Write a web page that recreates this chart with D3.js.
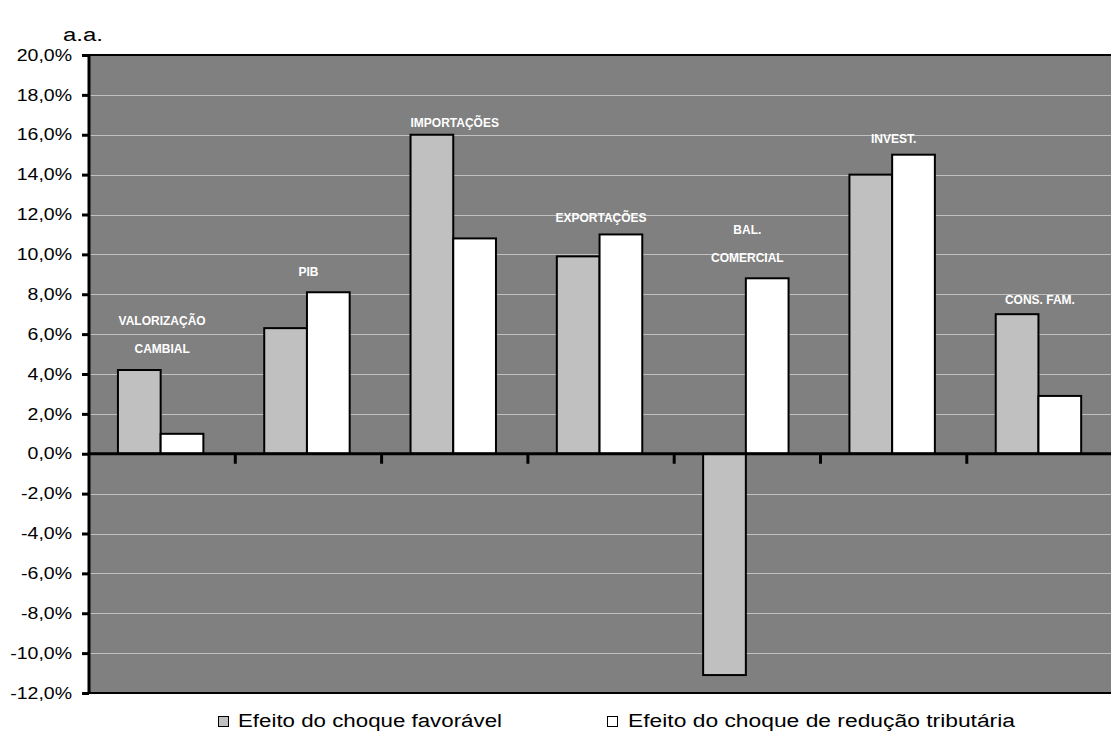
<!DOCTYPE html>
<html><head><meta charset="utf-8">
<script src="https://cdn.jsdelivr.net/npm/d3@7"></script>
<style>body{margin:0;background:#fff;} svg{display:block;font-family:"Liberation Sans",Arial,sans-serif;}</style>
</head><body>
<svg id="c" width="1111" height="731"></svg>
<script>
const categories = ["VALORIZAÇÃO CAMBIAL","PIB","IMPORTAÇÕES","EXPORTAÇÕES","BAL. COMERCIAL","INVEST.","CONS. FAM."];
const labelLines = [["VALORIZAÇÃO","CAMBIAL"],["PIB"],["IMPORTAÇÕES"],["EXPORTAÇÕES"],["BAL.","COMERCIAL"],["INVEST."],["CONS. FAM."]];
const labelValues = [6.47, 8.9, 16.4, 11.6, 11.0, 15.6, 7.5];
const seriesNames = ["Efeito do choque favorável","Efeito do choque de redução tributária"];
const favoravel = [4.2, 6.3, 16.0, 9.9, -11.1, 14.0, 7.0];
const reducao = [1.0, 8.1, 10.8, 11.0, 8.8, 15.0, 2.9];
const yTicks = [-12,-10,-8,-6,-4,-2,0,2,4,6,8,10,12,14,16,18,20];

const svg = d3.select("#c");
const L = 89, R = 89 + 146.3*7, T = 55, B = 693;
const x = d3.scaleBand().domain(categories).range([L, R]).padding(0);
const y = d3.scaleLinear().domain([-12, 20]).range([B, T]);
const bw = x.bandwidth()*0.292;

svg.append("rect").attr("x",L).attr("y",T).attr("width",R-L).attr("height",B-T).attr("fill","#808080");
// gridlines
svg.append("g").selectAll("line").data(yTicks.filter(d=>d!==0&&d!==20&&d!==-12)).join("line")
  .attr("x1",L).attr("x2",R).attr("y1",d=>Math.round(y(d))+0.5).attr("y2",d=>Math.round(y(d))+0.5)
  .attr("stroke","#c0c0c0").attr("stroke-width",1);
// top & bottom borders
svg.append("line").attr("x1",L).attr("x2",R).attr("y1",T).attr("y2",T).attr("stroke","#000").attr("stroke-width",2);
svg.append("line").attr("x1",L).attr("x2",R).attr("y1",B).attr("y2",B).attr("stroke","#000").attr("stroke-width",2);

const series = [favoravel, reducao];
const fills = ["#c0c0c0","#ffffff"];
series.forEach((vals, s) => {
  svg.append("g").selectAll("rect").data(vals).join("rect")
    .attr("x",(d,i)=>x(categories[i]) + x.bandwidth()/2 - bw - 1.5 + s*bw)
    .attr("y",d=>y(Math.max(0,d)))
    .attr("width",bw)
    .attr("height",d=>Math.abs(y(d)-y(0)))
    .attr("fill",fills[s]).attr("stroke","#000").attr("stroke-width",2);
});

// zero axis
svg.append("line").attr("x1",L).attr("x2",R).attr("y1",y(0)).attr("y2",y(0)).attr("stroke","#000").attr("stroke-width",3);
svg.append("g").selectAll("line").data(categories.slice(1)).join("line")
  .attr("x1",d=>x(d)).attr("x2",d=>x(d)).attr("y1",y(0)).attr("y2",y(0)+10)
  .attr("stroke","#000").attr("stroke-width",3);

// y axis
const yAxis = d3.axisLeft(y).tickValues(yTicks).tickSize(7).tickPadding(10)
  .tickFormat(d=>d.toFixed(1).replace(".",",")+"%");
const ya = svg.append("g").attr("transform",`translate(${L},0)`).call(yAxis)
  .attr("font-size",null).attr("font-family",null);
ya.select(".domain").attr("stroke","#000").attr("stroke-width",3).attr("d",`M0,${T}V${B}`);
ya.selectAll(".tick line").attr("stroke","#000").attr("stroke-width",3);
ya.selectAll(".tick text").style("font-size","16px").attr("fill","#000")
  .attr("x",0).attr("transform","translate(-17,0) scale(1.22,1)");

// category labels
labelLines.forEach((lines,i)=>{
  const cx = x(categories[i]) + x.bandwidth()/2;
  const t = svg.append("text").attr("x",cx).attr("y",y(labelValues[i])).attr("text-anchor","middle")
    .attr("fill","#fff").style("font-size","12px").attr("font-weight","bold");
  lines.forEach((ln,j)=>t.append("tspan").attr("x",cx).attr("dy",j===0?0:28).text(ln));
});

// a.a.
svg.append("text").attr("x",63).attr("y",41).style("font-size","18px")
  .attr("textLength",40).attr("lengthAdjust","spacingAndGlyphs").text("a.a.");

// legend
const lg = [[218,238,264],[607,628,387]];
seriesNames.forEach((n,i)=>{
  svg.append("rect").attr("x",lg[i][0]+0.5).attr("y",716.5).attr("width",10).attr("height",10)
    .attr("fill",fills[i]).attr("stroke","#000").attr("stroke-width",1);
  svg.append("text").attr("x",lg[i][1]).attr("y",727).style("font-size","18px")
    .attr("textLength",lg[i][2]).attr("lengthAdjust","spacingAndGlyphs").text(n);
});
</script>
</body></html>
